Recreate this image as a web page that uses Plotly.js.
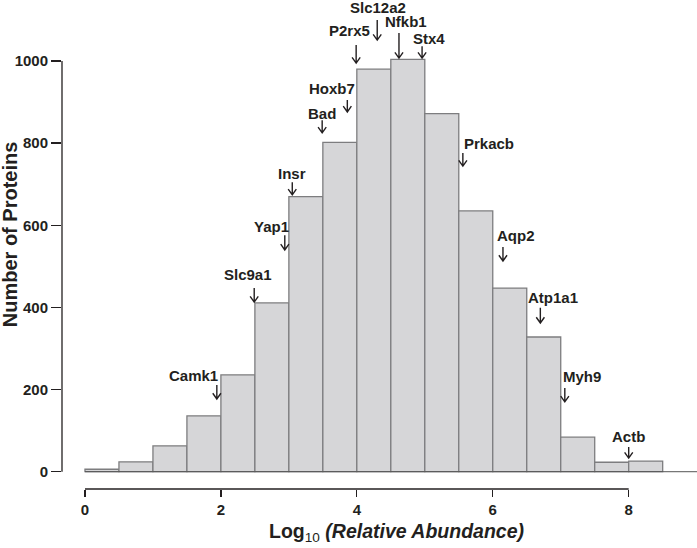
<!DOCTYPE html>
<html>
<head>
<meta charset="utf-8">
<script src="https://cdn.plot.ly/plotly-3.0.1.min.js"></script>
<style>html,body{margin:0;padding:0;background:#fff;}#chart{width:697px;height:548px;}</style>
</head>
<body>
<div id="chart"></div>
<script>
// Histogram bins (left edges, width 0.5) and counts
const binLeft = [0, 0.5, 1, 1.5, 2, 2.5, 3, 3.5, 4, 4.5, 5, 5.5, 6, 6.5, 7, 7.5, 8];
const counts  = [6, 24, 63, 136, 236, 411, 670, 802, 980, 1004, 872, 635, 447, 328, 84, 23, 26];
const binWidth = 0.5;

const xTicks = [0, 2, 4, 6, 8];
const yTicks = [0, 200, 400, 600, 800, 1000];

// Protein labels: text position and arrow (x, top, tip) in data units
const labelNames = ["Camk1","Slc9a1","Yap1","Insr","Bad","Hoxb7","P2rx5","Slc12a2","Nfkb1","Stx4","Prkacb","Aqp2","Atp1a1","Myh9","Actb"];
const labelX     = [1.59, 2.40, 2.74, 3.05, 3.49, 3.63, 3.89, 4.31, 4.72, 5.06, 5.95, 6.34, 6.89, 7.31, 7.99];
const labelY     = [235, 479, 598, 727, 873, 934, 1075, 1131, 1095, 1054, 798, 576, 423, 231, 85];
const arrowX     = [1.94, 2.49, 2.94, 3.05, 3.49, 3.86, 3.99, 4.30, 4.62, 4.96, 5.56, 6.15, 6.70, 7.06, 8.00];
const arrowTop   = [211, 447, 576, 705, 856, 905, 1039, 1100, 1068, 1036, 776, 547, 399, 204, 60];
const arrowTip   = [177, 413, 540, 674, 825, 876, 995, 1051, 1007, 1007, 744, 513, 362, 170, 33];

const ink = '#231f20';
const fontFam = 'Liberation Sans, Arial, Helvetica, sans-serif';
const xRange = [-0.338, 9.005];
const yRange = [-42.1, 1148.5];

const trace = {
  type: 'bar',
  x: binLeft,
  y: counts,
  width: binWidth,
  offset: 0,
  marker: {color: '#d6d6d8', line: {color: '#7d7d7f', width: 1.3}},
  hoverinfo: 'x+y'
};

const shapes = [];
// y axis line (0..1000)
shapes.push({type:'line', xref:'paper', yref:'y', x0:0, x1:0, y0:yTicks[0], y1:yTicks[yTicks.length-1], line:{color:ink, width:1.3}});
// x axis line (0..8)
shapes.push({type:'line', xref:'x', yref:'paper', x0:xTicks[0], x1:xTicks[xTicks.length-1], y0:0, y1:0, line:{color:ink, width:1.3}});
// baseline at zero
shapes.push({type:'line', xref:'x', yref:'y', x0:binLeft[0], x1:xRange[1], y0:0, y1:0, line:{color:'#555', width:1}});

// arrows
const hw = 0.06, hh = 14;
for (let i = 0; i < labelNames.length; i++) {
  const ax = arrowX[i], t = arrowTop[i], p = arrowTip[i];
  shapes.push({
    type:'path', xref:'x', yref:'y',
    path: `M ${ax},${t} L ${ax},${p} M ${ax-hw},${p+hh} L ${ax},${p} L ${ax+hw},${p+hh}`,
    line:{color:ink, width:1.4}
  });
}

const annotations = labelNames.map((n, i) => ({
  x: labelX[i], y: labelY[i], xref:'x', yref:'y', text: n, showarrow:false,
  xanchor:'center', yanchor:'middle',
  font:{family:fontFam, size:15, color:ink, weight:'bold'}
}));

// axis titles
annotations.push({
  x: 4.59, y: -0.088, xref:'x', yref:'paper', showarrow:false,
  text: '<b>Log</b><sub>10</sub> <b><i>(Relative Abundance)</i></b>',
  xanchor:'center', yanchor:'middle',
  font:{family:fontFam, size:19.5, color:ink}
});
annotations.push({
  x: -0.082, y: 578, xref:'paper', yref:'y', showarrow:false,
  text: '<b>Number of Proteins</b>', textangle:-90,
  xanchor:'center', yanchor:'middle',
  font:{family:fontFam, size:20, color:ink}
});

const layout = {
  width: 697, height: 548,
  margin: {l:62, r:0, t:0, b:59, pad:0},
  paper_bgcolor:'#fff', plot_bgcolor:'#fff',
  showlegend:false,
  bargap:0,
  xaxis: {
    range: xRange, showgrid:false, zeroline:false, showline:false,
    tickmode:'array', tickvals:xTicks, ticktext:xTicks.map(String),
    ticks:'outside', ticklen:7, tickwidth:1.3, tickcolor:ink,
    tickfont:{family:fontFam, size:15, color:ink, weight:'bold'}
  },
  yaxis: {
    range: yRange, showgrid:false, zeroline:false, showline:false,
    tickmode:'array', tickvals:yTicks, ticktext:yTicks.map(String),
    ticks:'outside', ticklen:10, tickwidth:1.3, tickcolor:ink,
    tickfont:{family:fontFam, size:15, color:ink, weight:'bold'}
  },
  shapes: shapes,
  annotations: annotations
};

Plotly.newPlot('chart', [trace], layout, {displayModeBar:false, staticPlot:true});
</script>
</body>
</html>
